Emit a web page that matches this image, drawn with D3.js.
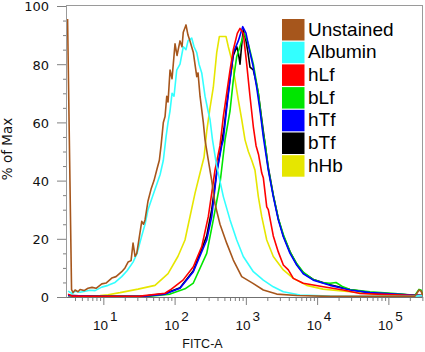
<!DOCTYPE html>
<html>
<head>
<meta charset="utf-8">
<script src="https://cdn.jsdelivr.net/npm/d3@7"></script>
<style>
body{margin:0;background:#fff;}
</style>
</head>
<body>
<div id="container"></div>
<script>
let w=425;
let h=352;

// each point: [log10(FITC-A), % of Max]
let unstained=[[0.498,95.5],[0.554,2.5],[0.575,1.5],[0.603,2.4],[0.645,1.8],[0.673,2.6],[0.729,2.2],[0.785,3.0],[0.841,3.3],[0.898,3.0],[0.978,4.5],[1.038,4.8],[1.118,6.5],[1.178,7.0],[1.258,8.7],[1.304,10],[1.347,12],[1.389,12.5],[1.417,18.5],[1.445,14],[1.469,15],[1.501,20],[1.539,26],[1.564,25],[1.585,26.5],[1.627,33],[1.669,37],[1.711,40],[1.753,44],[1.786,47],[1.810,52],[1.842,60],[1.866,62],[1.890,69],[1.908,67],[1.936,78],[1.964,75],[2.006,87],[2.034,83],[2.076,88],[2.104,86],[2.122,91],[2.160,93.5],[2.188,90],[2.216,88],[2.263,84],[2.311,75.7],[2.329,77],[2.357,69],[2.403,60],[2.427,54],[2.473,47],[2.521,40],[2.567,32],[2.637,25],[2.731,18.5],[2.824,12.7],[2.942,7],[3.100,4.7],[3.245,2.4],[3.433,1.0],[3.714,0.5],[4.181,0.2],[4.882,0.2],[5.374,0.3],[5.430,2.4],[5.458,2.0],[5.486,0.5]];
let albumin=[[0.505,2],[0.561,1.2],[0.603,2],[0.673,1.6],[0.743,2],[0.813,2.3],[0.884,2.2],[0.978,3.4],[1.066,4],[1.164,5],[1.258,7],[1.333,9],[1.417,12],[1.473,15],[1.539,21],[1.585,25],[1.627,30],[1.683,34],[1.739,38],[1.796,42],[1.842,47],[1.880,55],[1.908,60],[1.936,64],[1.964,70],[1.992,69],[2.030,78],[2.076,80],[2.122,86],[2.160,85],[2.188,88],[2.240,89],[2.273,86],[2.311,84],[2.343,80],[2.381,77],[2.427,69],[2.469,64],[2.497,61],[2.532,54],[2.591,45],[2.684,34.5],[2.778,26.5],[2.872,19.6],[2.964,13.9],[3.105,8.7],[3.245,5.8],[3.385,3.5],[3.526,1.8],[3.760,0.7],[4.181,0.3],[4.882,0.2],[5.374,0.3],[5.486,0.5]];
let hLf=[[0.505,1],[0.561,0.3],[0.954,0.2],[1.515,0.3],[1.866,1.3],[1.936,2.4],[2.118,5.8],[2.263,10.4],[2.381,17.3],[2.473,27.6],[2.521,35.7],[2.567,43.6],[2.637,52],[2.684,62],[2.731,70],[2.778,78],[2.824,85],[2.880,90.6],[2.918,92.3],[2.964,90.6],[3.012,80],[3.058,69],[3.105,58.5],[3.143,52],[3.178,49],[3.223,42.6],[3.245,41],[3.293,31],[3.315,30],[3.385,21],[3.455,15.5],[3.526,11],[3.596,9.3],[3.666,6.4],[3.806,4.7],[4.087,3.5],[4.367,2.4],[4.602,1.2],[5.023,0.8],[5.374,0.5],[5.486,0.5]];
let bLf=[[0.505,0.5],[0.954,0.2],[1.655,0.3],[1.936,1],[2.146,2.8],[2.263,4.8],[2.451,15],[2.543,26.5],[2.637,39],[2.708,54],[2.778,64],[2.824,74.6],[2.872,82.6],[2.942,88],[2.978,90.6],[3.035,87],[3.105,80],[3.175,70],[3.245,56],[3.269,53],[3.315,44],[3.385,35],[3.455,27],[3.526,21.5],[3.620,15.5],[3.714,11.5],[3.806,8.5],[3.947,6],[4.069,5],[4.181,4.7],[4.265,5],[4.363,3.5],[4.461,2.6],[4.742,1.8],[5.093,1.2],[5.374,0.6],[5.430,2.6],[5.458,2.4],[5.486,0.5]];
let hTf=[[0.505,0.5],[0.954,0.2],[1.585,0.3],[1.866,1],[2.076,3],[2.263,8.7],[2.451,19.6],[2.521,27.6],[2.591,42.6],[2.661,52],[2.684,54],[2.731,65],[2.778,74.6],[2.824,84],[2.894,88],[2.956,92.9],[3.002,90.7],[3.049,85],[3.096,80],[3.152,72],[3.199,64],[3.245,55],[3.315,43.6],[3.385,34.5],[3.455,26.5],[3.526,20.7],[3.620,15],[3.714,11],[3.806,8],[3.947,5.8],[4.181,4],[4.461,2.4],[4.742,1.5],[5.093,1],[5.374,0.6],[5.486,0.5]];
let bTf=[[0.505,0.5],[0.954,0.2],[1.585,0.3],[1.866,1.2],[2.076,3.2],[2.263,9],[2.451,21],[2.521,30],[2.591,43],[2.661,53],[2.694,58],[2.731,66],[2.778,75],[2.824,83],[2.872,86],[2.894,84],[2.918,80],[2.939,86],[2.964,91.8],[3.002,88],[3.030,84],[3.058,79],[3.105,78],[3.143,74],[3.175,70],[3.245,57],[3.315,44.5],[3.385,35],[3.455,27],[3.526,21],[3.620,15.5],[3.714,11.2],[3.806,8.3],[3.947,6],[4.181,4.2],[4.461,2.6],[4.742,1.5],[5.093,1],[5.374,0.6],[5.486,0.5]];
let hHb=[[0.505,0.5],[0.673,0.3],[0.954,0.5],[1.066,0.8],[1.234,1.5],[1.487,2.7],[1.725,4],[1.908,8],[2.048,14],[2.146,19.6],[2.193,25],[2.287,35.7],[2.357,42.6],[2.413,48],[2.451,57],[2.497,65],[2.543,72],[2.591,84],[2.628,89.5],[2.680,89.5],[2.722,89.5],[2.754,86],[2.802,81.4],[2.848,74.6],[2.894,67.7],[2.942,61],[2.988,54],[3.035,50],[3.082,47],[3.128,43.6],[3.175,34.5],[3.223,27.6],[3.293,19.6],[3.385,13.9],[3.526,9.3],[3.666,6.4],[3.854,4],[4.083,2.7],[4.461,1.8],[4.882,0.8],[5.374,0.5],[5.486,0.5]];

let names=["Unstained","Albumin","hLf","bLf","hTf","bTf","hHb"];
let colors=["#a6561c","#33ffff","#ff0000","#00e600","#0000ff","#000000","#e6e600"];
let curves=[unstained,albumin,hLf,bLf,hTf,bTf,hHb];
let drawOrder=[6,5,3,4,2,1,0];
let yTicks=[0,20,40,60,80,100];
let xExps=[1,2,3,4,5];

let pLeft=67, pRight=423, pTop=6, pBottom=297;
let x=d3.scaleLog().domain([Math.pow(10,0.49),Math.pow(10,5.486)]).range([pLeft,pRight]);
let y=d3.scaleLinear().domain([0,100]).range([pBottom,pTop]);

let viz=d3.select("#container")
  .append("svg")
  .attr("width",w)
  .attr("height",h)
  .style("font-family","'Liberation Sans', Arial, sans-serif");

viz.append("clipPath").attr("id","plotclip")
  .append("rect")
  .attr("x",pLeft).attr("y",pTop-2)
  .attr("width",pRight-pLeft).attr("height",pBottom-pTop+2);

// minor ticks
let yMinor=d3.range(0,101,5).filter(function(v){return v%20!=0;});
let xMinor=[];
for(let e=0;e<=5;e++){
  for(let m=2;m<=9;m++){
    let v=m*Math.pow(10,e);
    if(v>x.domain()[0] && v<x.domain()[1]) xMinor.push(v);
  }
}

let tickColor="#808080";

let yAxis=viz.append("g")
  .attr("transform","translate("+pLeft+",0)")
  .call(d3.axisLeft(y).tickValues(yTicks).tickSize(10).tickPadding(8).tickFormat(d3.format("d")));
yAxis.select(".domain").remove();
yAxis.selectAll("line").attr("stroke",tickColor);
yAxis.selectAll("text")
  .attr("font-family","'DejaVu Sans', sans-serif")
  .attr("font-size",13)
  .attr("dy","0.38em")
  .attr("fill","#111");

let yMin=viz.append("g")
  .attr("transform","translate("+pLeft+",0)")
  .call(d3.axisLeft(y).tickValues(yMinor).tickSize(4).tickFormat(""));
yMin.select(".domain").remove();
yMin.selectAll("line").attr("stroke",tickColor);

let xAxis=viz.append("g")
  .attr("transform","translate(0,"+pBottom+")")
  .call(d3.axisBottom(x).tickValues(xExps.map(function(e){return Math.pow(10,e);})).tickSize(8).tickFormat(""));
xAxis.select(".domain").remove();
xAxis.selectAll("line").attr("stroke",tickColor);

let xMin=viz.append("g")
  .attr("transform","translate(0,"+pBottom+")")
  .call(d3.axisBottom(x).tickValues(xMinor).tickSize(4).tickFormat(""));
xMin.select(".domain").remove();
xMin.selectAll("line").attr("stroke",tickColor);

// x tick labels 10^n
let xl=viz.selectAll(".xlab").data(xExps).enter()
  .append("text")
  .attr("class","xlab")
  .attr("x",function(d){return x(Math.pow(10,d))+2;})
  .attr("y",330)
  .attr("text-anchor","middle")
  .attr("font-size",13.5)
  .attr("fill","#111");
xl.append("tspan").text("10");
xl.append("tspan").attr("dx",2).attr("dy",-9).text(function(d){return d;});

// frame
viz.append("rect")
  .attr("x",pLeft-0.5).attr("y",pTop-0.5)
  .attr("width",pRight-pLeft).attr("height",pBottom-pTop+1)
  .attr("fill","none")
  .attr("stroke","#9a9a9a")
  .attr("stroke-width",1);
viz.append("line")
  .attr("x1",pLeft-0.5).attr("x2",pRight-0.5)
  .attr("y1",pBottom+0.5).attr("y2",pBottom+0.5)
  .attr("stroke","#707070");

// histogram lines
let line=d3.line()
  .x(function(d){return x(Math.pow(10,d[0]));})
  .y(function(d){return y(d[1]);});

let lines=viz.append("g").attr("clip-path","url(#plotclip)");
lines.selectAll(".curve").data(drawOrder).enter()
  .append("path")
  .attr("class","curve")
  .attr("d",function(i){return line(curves[i]);})
  .attr("fill","none")
  .attr("stroke",function(i){return colors[i];})
  .attr("stroke-width",1.6)
  .attr("stroke-linejoin","round");

// legend
let legend=viz.selectAll(".legend").data(names).enter()
  .append("g")
  .attr("class","legend")
  .attr("transform",function(d,i){return "translate(282,"+(19+i*22.7)+")";});
legend.append("rect")
  .attr("width",22.5)
  .attr("height",21.5)
  .attr("fill",function(d,i){return colors[i];});
legend.append("text")
  .text(function(d){return d;})
  .attr("x",26)
  .attr("y",16.5)
  .attr("font-size",19)
  .attr("fill","#000");

// axis titles
viz.append("text")
  .text("FITC-A")
  .attr("x",202.5)
  .attr("y",348)
  .attr("text-anchor","middle")
  .attr("font-size",12.5)
  .attr("fill","#111");
viz.append("text")
  .text("% of Max")
  .attr("transform","translate(12,149) rotate(-90)")
  .attr("text-anchor","middle")
  .attr("font-family","'DejaVu Sans', sans-serif")
  .attr("font-size",13.5)
  .attr("fill","#111");
</script>
</body>
</html>
